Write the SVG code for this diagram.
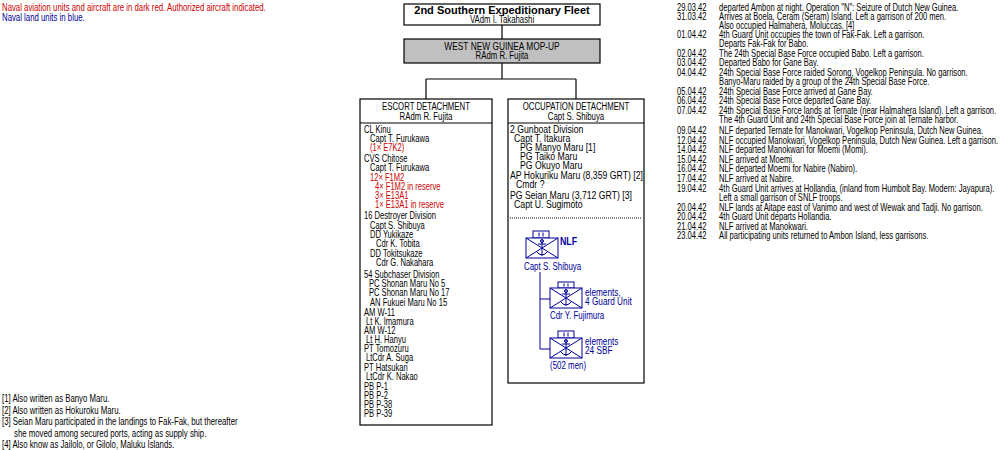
<svg xmlns="http://www.w3.org/2000/svg" width="1000" height="450" viewBox="0 0 1000 450">
<style>
text{font-family:"Liberation Sans",Arial,sans-serif;font-size:11px;fill:#000}
.r{fill:#cc0000}.b{fill:#000099}
.m{text-anchor:middle}
.box{fill:#fff;stroke:#000;stroke-width:1.2}
.ln{stroke:#000;stroke-width:1.2;fill:none}
.bl{stroke:#000099;stroke-width:1;fill:none}
</style>
<defs>
<g id="unit">
<rect x="0" y="0" width="32" height="20" fill="#fff" stroke="#000099"/>
<path d="M0 0L32 20M32 0L0 20" stroke="#000099"/>
<path d="M16 2V18M12 6H20M10 13Q16 21 22 13" stroke="#000099" fill="none"/>
<circle cx="16" cy="3" r="1.5" fill="none" stroke="#000099"/>
</g>
</defs>
<rect width="1000" height="450" fill="#fff"/>

<g id="legend">
<g transform="translate(2,0) scale(0.71,1)">
<text class="r" y="11">Naval aviation units and aircraft are in dark red. Authorized aircraft indicated.</text>
<text class="b" y="21">Naval land units in blue.</text>
</g>
</g>

<g id="connectors">
<path class="ln" d="M502 25V39M502 63V79M426 79H576M426 79V99M576 79V99"/>
</g>

<g id="fleet">
<rect class="box" x="404" y="4" width="196" height="21"/>
<text x="502" y="13.5" class="m" style="font-weight:bold;font-size:11px">2nd Southern Expeditionary Fleet</text>
<g transform="translate(502,0) scale(0.71,1)"><text class="m" y="23">VAdm  I. Takahashi</text></g>
</g>

<g id="mopup">
<rect x="404" y="39" width="196" height="24" fill="#c0c0c0" stroke="#000" stroke-width="1.2"/>
<g transform="translate(502,0) scale(0.76,1)"><text class="m" y="50">WEST NEW GUINEA MOP-UP</text></g>
<g transform="translate(502,0) scale(0.71,1)"><text class="m" y="59.5">RAdm  R. Fujita</text></g>
</g>

<g id="escort">
<rect class="box" x="360" y="99" width="132" height="326"/>
<line class="ln" x1="360" y1="123" x2="492" y2="123"/>
<g transform="translate(426,0) scale(0.71,1)">
<text class="m" y="110">ESCORT DETACHMENT</text>
<text class="m" y="120">RAdm  R. Fujita</text>
</g>
<g transform="translate(364,0) scale(0.69,1)">
<text y="133.5">CL  Kinu</text>
<text x="8.7" y="142.5">Capt  T. Furukawa</text>
<text x="8.7" y="151.5" class="r">(1× E7K2)</text>
<text y="162.5">CVS  Chitose</text>
<text x="8.7" y="171.5">Capt  T. Furukawa</text>
<text x="8.7" y="181.5" class="r">12× F1M2</text>
<text x="16" y="190.5" class="r">4× F1M2 in reserve</text>
<text x="16" y="199.5" class="r">3× E13A1</text>
<text x="16" y="208.5" class="r">1× E13A1 in reserve</text>
<text y="219.5">16 Destroyer Division</text>
<text x="8.7" y="229.5">Capt  S. Shibuya</text>
<text x="8.7" y="238.5">DD  Yukikaze</text>
<text x="17.4" y="247.5">Cdr  K. Tobita</text>
<text x="8.7" y="257.5">DD  Tokitsukaze</text>
<text x="17.4" y="266.5">Cdr  G. Nakahara</text>
<text y="278.5">54 Subchaser Division</text>
<text x="7.2" y="287.5">PC  Shonan Maru No 5</text>
<text x="7.2" y="296.5">PC  Shonan Maru No 17</text>
<text x="8.7" y="306.5">AN  Fukuei Maru No 15</text>
<text y="316.5">AM  W-11</text>
<text x="2.9" y="325.5">Lt  K. Imamura</text>
<text y="334.5">AM  W-12</text>
<text x="2.9" y="343.5">Lt  H. Hanyu</text>
<text y="352.5">PT  Tomozuru</text>
<text x="2.9" y="361.5">LtCdr  A. Suga</text>
<text y="371.5">PT  Hatsukari</text>
<text x="2.9" y="380.5">LtCdr  K. Nakao</text>
<text y="390.5">PB  P-1</text>
<text y="399.5">PB  P-2</text>
<text y="408.5">PB  P-38</text>
<text y="417.5">PB  P-39</text>
</g>
</g>

<g id="occupation">
<rect class="box" x="508" y="99" width="136" height="284"/>
<line class="ln" x1="508" y1="123" x2="644" y2="123"/>
<line x1="510" y1="218" x2="642" y2="218" stroke="#000" stroke-dasharray="1,1"/>
<g transform="translate(576,0) scale(0.71,1)">
<text class="m" y="110">OCCUPATION DETACHMENT</text>
<text class="m" y="120">Capt  S. Shibuya</text>
</g>
<g transform="translate(510,0) scale(0.79,1)">
<text y="133.5">2 Gunboat Division</text>
<text x="5.1" y="142.5">Capt  T. Itakura</text>
<text x="12.7" y="151.5">PG  Manyo Maru [1]</text>
<text x="12.7" y="160.5">PG  Taiko Maru</text>
<text x="12.7" y="169.5">PG  Okuyo Maru</text>
<text y="179.5">AP  Hokuriku Maru (8,359 GRT) [2]</text>
<text x="7.6" y="188.5">Cmdr ?</text>
<text y="199.5">PG  Seian Maru (3,712 GRT) [3]</text>
<text x="5.1" y="208.5">Capt  U. Sugimoto</text>
</g>
</g>

<g id="nlf">
<rect x="533" y="231" width="16" height="7" fill="#fff" stroke="#000099"/>
<path d="M539 232.5V236.5M543 232.5V236.5" stroke="#000099"/>
<use href="#unit" x="526" y="238"/>
<g transform="translate(560,0) scale(0.8,1)"><text class="b" y="245.5" style="font-weight:bold">NLF</text></g>
<g transform="translate(524,0) scale(0.72,1)"><text class="b" y="270.5">Capt  S. Shibuya</text></g>
</g>
<g id="nlf-links">
<path class="bl" d="M540 272V349H550M540 299H550"/>
</g>
<g id="guard4">
<rect x="558" y="282" width="16" height="6" fill="#fff" stroke="#000099"/>
<path d="M564 283.5V286.5M568 283.5V286.5" stroke="#000099"/>
<use href="#unit" x="550" y="288"/>
<g transform="translate(585,0) scale(0.75,1)">
<text class="b" y="296.5">elements,</text>
<text class="b" y="305.5">4 Guard Unit</text>
</g>
<g transform="translate(550,0) scale(0.72,1)"><text class="b" y="319.5">Cdr  Y. Fujimura</text></g>
</g>
<g id="sbf24">
<rect x="558" y="331" width="16" height="7" fill="#fff" stroke="#000099"/>
<path d="M564 332.5V336.5M568 332.5V336.5" stroke="#000099"/>
<use href="#unit" x="550" y="338"/>
<g transform="translate(585,0) scale(0.75,1)">
<text class="b" y="345.5">elements</text>
<text class="b" y="354.5">24 SBF</text>
</g>
<g transform="translate(550,0) scale(0.72,1)"><text class="b" y="369.5">(502 men)</text></g>
</g>

<g id="timeline">
<g transform="translate(677,0) scale(0.69,1)">
<text y="11.5">29.03.42</text><text x="61" y="11.5">departed Ambon at night. Operation "N": Seizure of Dutch New Guinea.</text>
<text y="20.5">31.03.42</text><text x="61" y="20.5">Arrives at Boela, Ceram (Seram) Island. Left a garrison of 200 men.</text>
<text x="61" y="29.5">Also occupied Halmahera, Moluccas. [4]</text>
<text y="38.5">01.04.42</text><text x="61" y="38.5">4th Guard Unit occupies the town of Fak-Fak. Left a garrison.</text>
<text x="61" y="47.5">Departs Fak-Fak for Babo.</text>
<text y="57.5">02.04.42</text><text x="61" y="57.5">The 24th Special Base Force occupied Babo. Left a garrison.</text>
<text y="66.5">03.04.42</text><text x="61" y="66.5">Departed Babo for Gane Bay.</text>
<text y="76.5">04.04.42</text><text x="61" y="76.5">24th Special Base Force raided Sorong, Vogelkop Peninsula. No garrison.</text>
<text x="61" y="85.5">Banyo-Maru raided by a group of  the 24th Special Base Force.</text>
<text y="95.5">05.04.42</text><text x="61" y="95.5">24th Special Base Force arrived at Gane Bay.</text>
<text y="104.5">06.04.42</text><text x="61" y="104.5">24th Special Base Force departed Gane Bay.</text>
<text y="114.5">07.04.42</text><text x="61" y="114.5">24th Special Base Force lands at Ternate (near Halmahera Island). Left a garrison.</text>
<text x="61" y="123.5">The  4th Guard Unit and 24th Special Base Force join at Ternate harbor.</text>
<text y="134.5">09.04.42</text><text x="61" y="134.5">NLF departed Ternate for Manokwari, Vogelkop Peninsula, Dutch New Guinea.</text>
<text y="144.5">12.04.42</text><text x="61" y="144.5">NLF occupied Manokwari, Vogelkop Peninsula, Dutch New Guinea. Left a garrison.</text>
<text y="153.5">14.04.42</text><text x="61" y="153.5">NLF departed Manokwari for Moemi (Momi).</text>
<text y="163.5">15.04.42</text><text x="61" y="163.5">NLF arrived at Moemi.</text>
<text y="172.5">16.04.42</text><text x="61" y="172.5">NLF departed Moemi for Nabire (Nabiro).</text>
<text y="182.5">17.04.42</text><text x="61" y="182.5">NLF arrived at Nabire.</text>
<text y="192.5">19.04.42</text><text x="61" y="192.5">4th Guard Unit arrives at Hollandia, (inland from Humbolt Bay. Modern: Jayapura).</text>
<text x="61" y="201.5">Left a small garrison of SNLF troops.</text>
<text y="211.5">20.04.42</text><text x="61" y="211.5">NLF lands at Aitape east of Vanimo and west of Wewak and Tadji. No garrison.</text>
<text y="220.5">20.04.42</text><text x="61" y="220.5">4th Guard Unit departs Hollandia.</text>
<text y="230.5">21.04.42</text><text x="61" y="230.5">NLF arrived at Manokwari.</text>
<text y="239.5">23.04.42</text><text x="61" y="239.5">All participating units returned to Ambon Island, less garrisons.</text>
</g>
</g>

<g id="footnotes">
<g transform="translate(2,0) scale(0.71,1)">
<text y="402.5">[1] Also written as Banyo Maru.</text>
<text y="414">[2] Also written as Hokuroku Maru.</text>
<text y="425.5">[3] Seian Maru participated in the landings to Fak-Fak, but thereafter</text>
<text x="17" y="437">she moved among secured ports, acting as supply ship.</text>
<text y="448">[4] Also know as Jailolo, or Gilolo, Maluku Islands.</text>
</g>
</g>
</svg>
